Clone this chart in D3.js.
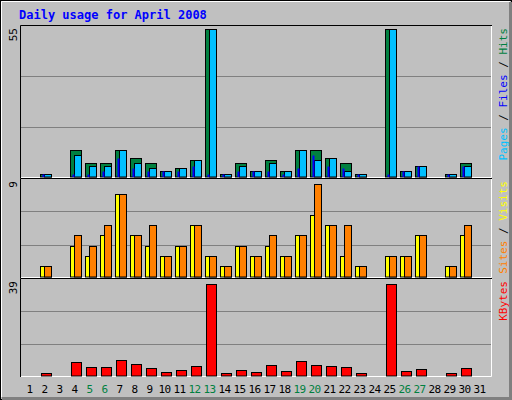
<!DOCTYPE html>
<html>
<head>
<meta charset="utf-8">
<script src="https://cdn.jsdelivr.net/npm/d3@7"></script>
<style>
  body { margin: 0; background: #fff; }
  text { font-family: 'DejaVu Sans Mono', monospace; }
</style>
</head>
<body>
<svg id="chart" width="512" height="400"></svg>
<script>
const days = d3.range(1, 32);
const weekends = [5, 6, 12, 13, 19, 20, 26, 27];

const hits   = [0,1,0,10,5,5,10,7,5,2,3,6,55,1,5,2,6,2,10,10,7,5,1,0,55,2,4,0,1,5,0];
const files  = [0,1,0,1,1,2,7,3,2,2,2,4,1,1,2,2,2,1,3,8,4,3,1,0,1,2,4,0,1,4,0];
const pages  = [0,1,0,8,4,4,10,5,3,2,3,6,55,1,4,2,5,2,10,6,7,2,1,0,55,2,4,0,1,4,0];
const sites  = [0,1,0,3,2,4,8,4,3,2,3,5,2,1,3,2,3,2,4,6,5,2,1,0,2,2,4,0,1,4,0];
const visits = [0,1,0,4,3,5,8,4,5,2,3,5,2,1,3,2,4,2,4,9,5,5,1,0,2,2,4,0,1,5,0];
const kbytes = [0,1,0,5.7,3.5,3.5,6.5,4.8,3.1,1.4,2.3,4,39,1,2.3,1.4,4.4,1.8,6.1,4.4,4,3.5,1,0,39,1.8,2.7,0,1,3.1,0];

const svg = d3.select('#chart');

// background + frame
svg.append('rect').attr('width', 512).attr('height', 400).attr('fill', '#c0c0c0');
svg.append('rect').attr('x', 0.5).attr('y', 0.5).attr('width', 511).attr('height', 399)
  .attr('fill', 'none').attr('stroke', '#000');
svg.append('path').attr('d', 'M2,398.5H510.5V2').attr('fill', 'none').attr('stroke', '#808080').attr('stroke-width', 3);
svg.append('path').attr('d', 'M1.5,397V1.5H510').attr('fill', 'none').attr('stroke', '#fff');

svg.append('text').attr('x', 19).attr('y', 19)
  .attr('fill', '#0000ff').attr('font-size', 12).attr('font-weight', 'bold')
  .text('Daily usage for April 2008');

const x = d3.scaleBand().domain(days).range([21, 486]).paddingInner(0);

const panels = [
  { top: 25, bottom: 178, y0: 176.5, y1: 29, max: 55, label: '55',
    series: [
      { data: hits, color: '#008040', off: 0, w: 11 },
      { data: pages, color: '#00c0ff', off: 4, w: 7 },
      { data: files, color: '#0000ff', off: 2, w: 2 },
    ],
    right: [['Pages', '#00c0ff'], [' / ', '#000'], ['Files', '#0000ff'], [' / ', '#000'], ['Hits', '#008040']] },
  { top: 178, bottom: 278, y0: 276.5, y1: 184, max: 9, label: '9',
    series: [
      { data: sites, color: '#ffff00', off: 0, w: 11 },
      { data: visits, color: '#ff8000', off: 4, w: 7 },
    ],
    right: [['Sites', '#ff8000'], [' / ', '#000'], ['Visits', '#ffff00']] },
  { top: 278, bottom: 377, y0: 375.5, y1: 284, max: 39, label: '39',
    series: [
      { data: kbytes, color: '#ff0000', off: 1, w: 10 },
    ],
    right: [['KBytes', '#ff0000']] },
];

panels.forEach(p => {
  const y = d3.scaleLinear().domain([0, p.max]).range([p.y0, p.y1]);
  const g = svg.append('g');
  const h = p.bottom - p.top;

  // grid lines at thirds
  [1, 2].forEach(k => {
    g.append('line').attr('x1', 21).attr('x2', 491)
      .attr('y1', Math.round(p.bottom - h * k / 3) + 0.5)
      .attr('y2', Math.round(p.bottom - h * k / 3) + 0.5)
      .attr('stroke', '#808080');
  });

  // frame: dark top/left, white bottom/right
  g.append('path').attr('d', `M20.5,${p.bottom}V${p.top + 0.5}H492`)
    .attr('fill', 'none').attr('stroke', '#000');
  g.append('path').attr('d', `M21,${p.bottom - 0.5}H491.5V${p.top + 1}`)
    .attr('fill', 'none').attr('stroke', '#fff');

  p.series.forEach(s => {
    g.selectAll(null)
      .data(days.filter((d, i) => s.data[i] > 0))
      .enter().append('rect')
        .attr('x', d => x(d) + 4 + s.off + 0.5)
        .attr('y', d => Math.round(y(s.data[d - 1])) + 0.5)
        .attr('width', s.w)
        .attr('height', d => Math.max(1, p.y0 - Math.round(y(s.data[d - 1]))))
        .attr('fill', s.color)
        .attr('stroke', s.color === '#0000ff' ? 'none' : '#000');
  });

  // max label on left, rotated
  svg.append('text')
    .attr('transform', `translate(17, ${p.top + 3}) rotate(-90)`)
    .attr('text-anchor', 'end').attr('font-size', 11).attr('fill', '#000')
    .text(p.label);

  // series names on right, reading upward, ending at panel top
  const t = svg.append('text')
    .attr('transform', `translate(507, ${p.top + 3}) rotate(-90)`)
    .attr('font-size', 11)
    .attr('text-anchor', 'end');
  p.right.forEach(([s, c]) => {
    t.append('tspan').attr('fill', c).text(s);
  });
});

// day labels
svg.append('g').selectAll('text')
  .data(days)
  .enter().append('text')
    .attr('x', d => x(d) + x.bandwidth() / 2 + 1)
    .attr('y', 393)
    .attr('text-anchor', 'middle')
    .attr('font-size', 11)
    .attr('fill', d => weekends.includes(d) ? '#008040' : '#000')
    .attr('letter-spacing', -0.5)
    .text(d => d);
</script>
</body>
</html>
